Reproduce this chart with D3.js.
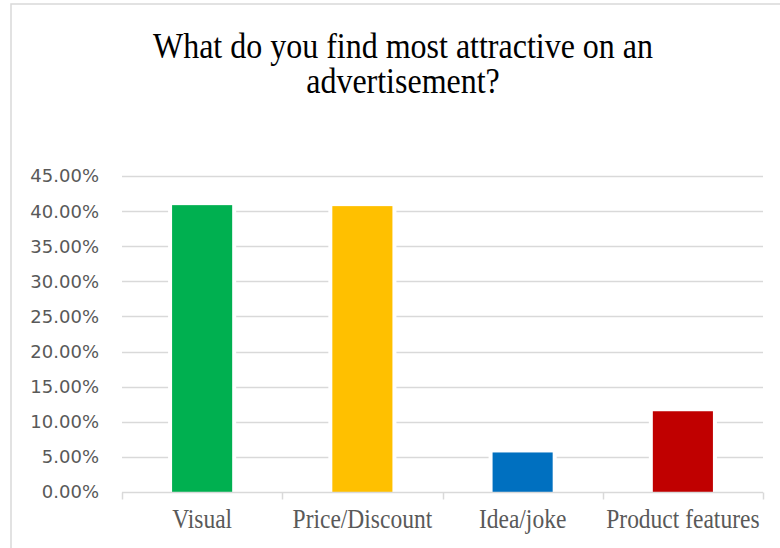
<!DOCTYPE html>
<html>
<head>
<meta charset="utf-8">
<script src="https://cdn.jsdelivr.net/npm/d3@7"></script>
<style>
  html, body { margin: 0; padding: 0; background: #fff; }
  svg { display: block; }
</style>
</head>
<body>
<svg id="chart" width="780" height="548"></svg>
<script>
// Survey answers: share of respondents per choice
const categories = ["Visual", "Price/Discount", "Idea/joke", "Product features"];
const shares = [0.4085, 0.4071, 0.0563, 0.1150];
const barColors = ["#00b050", "#ffc000", "#0070c0", "#c00000"];
const yTicks = [0, 0.05, 0.10, 0.15, 0.20, 0.25, 0.30, 0.35, 0.40, 0.45];
const titleLines = ["What do you find most attractive on an", "advertisement?"];

const W = 780, H = 548;
const plot = { left: 122, right: 763, top: 176, bottom: 492 };
const gridColor = "#d9d9d9";
const textColor = "#595959";
const vStretch = 1.13;

const svg = d3.select("#chart");

// chart area frame
svg.append("rect")
  .attr("x", 11).attr("y", 4)
  .attr("width", 820).attr("height", 600)
  .attr("fill", "#fff")
  .attr("stroke", gridColor).attr("stroke-width", 1.5);

// title (two lines, serif)
const title = svg.append("g")
  .attr("transform", `translate(403,0) scale(1,${vStretch})`);
title.selectAll("text")
  .data(titleLines)
  .join("text")
  .attr("x", 0)
  .attr("y", (d, i) => (58 + i * 35) / vStretch)
  .attr("text-anchor", "middle")
  .attr("font-family", "'Liberation Serif', 'Times New Roman', serif")
  .attr("font-size", 32)
  .attr("fill", "#000")
  .text(d => d);

const x = d3.scaleBand()
  .domain(categories)
  .range([plot.left, plot.right])
  .paddingInner(0).paddingOuter(0);

const y = d3.scaleLinear()
  .domain([0, 0.45])
  .range([plot.bottom, plot.top]);

const barFrac = 0.375;
const barW = x.bandwidth() * barFrac;
const barX = d => x(d) + (x.bandwidth() - barW) / 2;

// horizontal gridlines
svg.append("g")
  .selectAll("line")
  .data(yTicks.filter(t => t > 0))
  .join("line")
  .attr("x1", plot.left).attr("x2", plot.right)
  .attr("y1", d => Math.round(y(d)) + 0.5)
  .attr("y2", d => Math.round(y(d)) + 0.5)
  .attr("stroke", gridColor).attr("stroke-width", 1.5);

// y tick labels
const fmt = d3.format(".2%");
svg.append("g")
  .selectAll("text")
  .data(yTicks)
  .join("text")
  .attr("x", 99)
  .attr("y", d => y(d))
  .attr("dy", "0.36em")
  .attr("text-anchor", "end")
  .attr("font-family", "'DejaVu Sans', sans-serif")
  .attr("font-size", 18)
  .attr("fill", textColor)
  .text(d => fmt(d));

// white gap around bars so gridlines stop short of them
const data = categories.map((c, i) => ({ c, v: shares[i], color: barColors[i] }));
svg.append("g")
  .selectAll("rect")
  .data(data)
  .join("rect")
  .attr("x", d => barX(d.c) - 4)
  .attr("width", barW + 8)
  .attr("y", d => y(d.v))
  .attr("height", d => y(0) - y(d.v))
  .attr("fill", "#fff");

// bars
svg.append("g")
  .selectAll("rect")
  .data(data)
  .join("rect")
  .attr("x", d => barX(d.c))
  .attr("width", barW)
  .attr("y", d => y(d.v))
  .attr("height", d => y(0) - y(d.v))
  .attr("fill", d => d.color);

// category axis with ticks at band edges
const axisY = Math.round(y(0)) + 0.5;
svg.append("line")
  .attr("x1", plot.left).attr("x2", plot.right)
  .attr("y1", axisY).attr("y2", axisY)
  .attr("stroke", gridColor).attr("stroke-width", 1.5);
const edges = categories.map(c => x(c)).concat([x.range()[1]]);
svg.append("g")
  .selectAll("line")
  .data(edges)
  .join("line")
  .attr("x1", d => Math.round(d) + 0.5).attr("x2", d => Math.round(d) + 0.5)
  .attr("y1", axisY).attr("y2", axisY + 7)
  .attr("stroke", gridColor).attr("stroke-width", 1.5);

// category labels (serif)
svg.append("g")
  .selectAll("g")
  .data(categories)
  .join("g")
  .attr("transform", d => `translate(${x(d) + x.bandwidth() / 2},528) scale(1,${vStretch})`)
  .append("text")
  .attr("text-anchor", "middle")
  .attr("font-family", "'Liberation Serif', 'Times New Roman', serif")
  .attr("font-size", 23.5)
  .attr("fill", textColor)
  .text(d => d);
</script>
</body>
</html>
